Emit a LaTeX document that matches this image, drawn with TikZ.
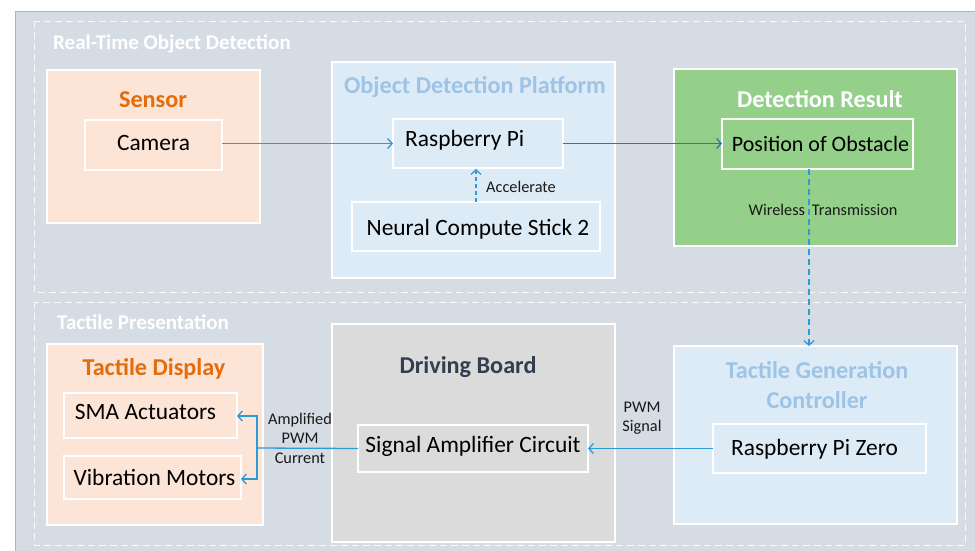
\documentclass[tikz,border=0pt]{standalone}
\usepackage{fontspec}
\setmainfont{Carlito}
\usetikzlibrary{arrows.meta,calc}
\definecolor{bgc}{HTML}{D6DCE4}
\definecolor{bgborder}{HTML}{9FB6CD}
\definecolor{peach}{HTML}{FCE4D6}
\definecolor{orangett}{HTML}{E46C0A}
\definecolor{lblue}{HTML}{DDEBF7}
\definecolor{lbluett}{HTML}{9DC3E6}
\definecolor{greenbox}{HTML}{94D089}
\definecolor{graybox}{HTML}{DBDBDB}
\definecolor{darktt}{HTML}{333F50}
\definecolor{linec}{HTML}{2E9BD6}
\definecolor{lined}{HTML}{2E75B6}
\tikzset{
  x=1pt,y=-1pt,
  panel/.style={draw=white, line width=1.2pt, inner sep=0pt, outer sep=0pt},
  inbox/.style={draw=white, line width=1.2pt, inner sep=0pt, outer sep=0pt},
  grp/.style={draw=white!95!gray, dashed, dash pattern=on 7pt off 4pt, line width=0.9pt},
  boxtitle/.style={font=\fontsize{24.2}{28}\selectfont\bfseries, inner sep=0pt},
  grptitle/.style={font=\fontsize{21}{24}\selectfont\bfseries, text=white, inner sep=0pt},
  bodytext/.style={font=\fontsize{23.4}{27}\selectfont, inner sep=0pt},
  smalllbl/.style={font=\fontsize{16.3}{19.5}\selectfont, inner sep=0pt, text=black!90},
  conn/.style={draw=linec, line width=1.3pt, -{Straight Barb[length=4.5pt,width=10pt,line width=1.3pt]}},
}
\begin{document}
\begin{tikzpicture}
\useasboundingbox (0,0) rectangle (975,550);
% background
\fill[white] (0,0) rectangle (975,550);
\draw[fill=bgc, draw=bgborder, line width=0.8pt] (15,11) rectangle (985,560);
% groups
\draw[grp] (34,21) rectangle (965,292);
\draw[grp] (34,302) rectangle (965,545);
\node[grptitle, anchor=west] (g1t) at (53,44) {Real-Time Object Detection};
\node[grptitle, anchor=west] (g2t) at (57,322) {Tactile Presentation};

% Sensor
\node[panel, fill=peach, minimum width=213, minimum height=153] (sensor) at (153.5,146.5) {};
\node[boxtitle, text=orangett] (sensort) at (153,100) {Sensor};
\node[inbox, fill=peach, minimum width=137, minimum height=50] (camera) at (153.5,145) {};
\node[bodytext] (camerat) at (153.5,143) {Camera};

% Object Detection Platform
\node[panel, fill=lblue, minimum width=283, minimum height=216] (odp) at (473.5,170) {};
\node[boxtitle, text=lbluett] (odpt) at (475,87) {Object Detection Platform};
\node[inbox, fill=lblue, minimum width=170, minimum height=49] (rpi) at (478,143.5) {};
\node[bodytext, anchor=west] (rpit) at (405,140) {Raspberry Pi};
\node[inbox, fill=lblue, minimum width=248, minimum height=49] (ncs) at (476,226.5) {};
\node[bodytext] (ncst) at (478,229) {Neural Compute Stick 2};

% Detection Result
\node[panel, fill=greenbox, minimum width=283, minimum height=177] (dr) at (815.5,157.5) {};
\node[boxtitle, text=white] (drt) at (820,99) {Detection Result};
\node[inbox, fill=greenbox, minimum width=191, minimum height=50] (pos) at (817.5,144) {};
\node[bodytext, font=\fontsize{22}{26}\selectfont] (post) at (820.5,144) {Position of Obstacle};

% Tactile Generation Controller
\node[panel, fill=lblue, minimum width=283, minimum height=178] (tgc) at (815.5,435) {};
\node[boxtitle, text=lbluett, align=center, font=\fontsize{24.2}{30}\selectfont\bfseries] (tgct) at (817,385) {Tactile Generation\\Controller};
\node[inbox, fill=lblue, minimum width=213, minimum height=49] (rpiz) at (819.5,448.5) {};
\node[bodytext] (rpizt) at (814.5,449) {Raspberry Pi Zero};

% Driving Board
\node[panel, fill=graybox, minimum width=283, minimum height=218] (db) at (473.5,433) {};
\node[boxtitle, text=darktt] (dbt) at (468,367) {Driving Board};
\node[inbox, fill=graybox, minimum width=230, minimum height=47] (sac) at (473,448.5) {};
\node[bodytext] (sact) at (473,446) {Signal Amplifier Circuit};

% Tactile Display
\node[panel, fill=peach, minimum width=216, minimum height=181] (td) at (155,434.5) {};
\node[boxtitle, text=orangett] (tdt) at (154,369) {Tactile Display};
\node[inbox, fill=peach, minimum width=173, minimum height=45] (sma) at (150.5,415.5) {};
\node[bodytext] (smat) at (145.5,412) {SMA Actuators};
\node[inbox, fill=peach, minimum width=177, minimum height=43] (vib) at (152.5,477.5) {};
\node[bodytext] (vibt) at (154.5,477) {Vibration Motors};

% connectors
\draw[conn] (camera.east |- rpi.west) -- (rpi.west);
\draw[conn, draw=lined] (rpi.east) -- (pos.west |- rpi.east);
\draw[conn, dashed, dash pattern=on 4pt off 3pt] (ncs.north -| 476,0) -- (476,169);
\node[smalllbl, anchor=west] (accl) at (486,187) {Accelerate};
\coordinate (wl) at ($(pos.south)+(-8.5,0)$);
\draw[conn, dashed, dash pattern=on 6pt off 4pt] (wl) -- (wl |- tgc.north) ;
\node[smalllbl] (wlt) at (823,210) {Wireless\hspace{7pt}Transmission};
\draw[conn] (rpiz.west) -- (sac.east |- rpiz.west);
\node[smalllbl, align=center] (pwml) at (642,418) {PWM\\Signal};
\coordinate (j) at (257,448);
\draw[draw=linec, line width=1.3pt] (sac.west) -- (j);
\draw[conn] (j) |- (237,416);
\draw[conn] (j) |- (241,479);
\node[smalllbl, align=center] (ampl) at (300,438) {Amplified\\PWM\\Current};
\end{tikzpicture}
\end{document}
